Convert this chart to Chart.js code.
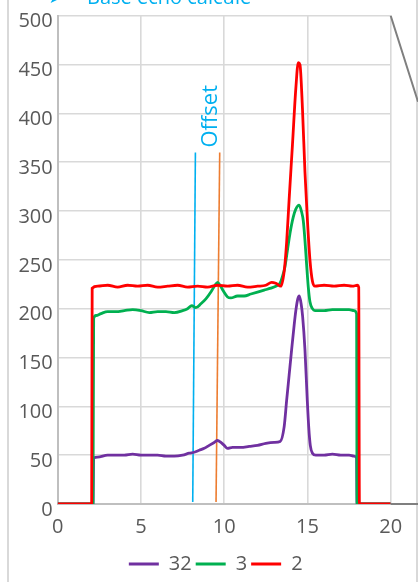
<!DOCTYPE html>
<html lang="fr">
<head>
<meta charset="UTF-8">
<title>Base écho calculé</title>
<script src="https://cdn.jsdelivr.net/npm/chart.js@4.4.0/dist/chart.umd.min.js"></script>
<style>
  html, body { margin: 0; padding: 0; background: #fff; }
  canvas { display: block; }
</style>
</head>
<body>
<canvas id="chart" width="418" height="582"></canvas>
<script>
// séries relevées (x en abscisse, valeur en ordonnée)
const names = ['32', '3', '2'];
const colors = ['#7030a0', '#00b050', '#ff0000'];

const xs32 = [0, 2.12, 2.16, 2.4, 3, 3.5, 4, 4.5, 5, 5.5, 6, 6.5, 7, 7.5, 7.9, 8.2, 8.5, 8.8, 9.1, 9.4, 9.6, 9.8, 10.0, 10.2, 10.5, 11, 11.5, 12, 12.5, 13, 13.36, 13.6, 13.75, 13.9, 14.05, 14.2, 14.31, 14.42, 14.51, 14.62, 14.71, 14.85, 14.99, 15.08, 15.17, 15.3, 15.5, 16, 16.5, 17, 17.5, 17.8, 17.95, 17.98, 20];
const ys32 = [0, 0, 47, 48, 50, 50, 50, 51, 50, 50, 50, 49, 49, 50, 52, 53, 55, 57, 60, 63, 65, 63, 60, 57, 58, 58, 59, 60, 62, 63, 64, 79, 106, 132, 158, 183, 199, 210, 213, 205, 192, 158, 106, 78, 60, 52, 50, 50, 51, 50, 50, 49, 47, 0, 0];

const xs3 = [0, 2.12, 2.16, 2.3, 2.6, 3, 3.5, 4, 4.5, 5, 5.5, 6, 6.5, 7, 7.5, 7.8, 8.05, 8.3, 8.6, 8.9, 9.2, 9.45, 9.6, 9.75, 9.95, 10.2, 10.4, 10.8, 11.2, 11.6, 12, 12.4, 12.8, 13.1, 13.35, 13.5, 13.65, 13.8, 13.95, 14.15, 14.3, 14.5, 14.65, 14.75, 14.85, 14.95, 15.05, 15.15, 15.3, 15.45, 16, 16.5, 17, 17.5, 17.8, 17.95, 17.98, 20];
const ys3 = [0, 0, 190, 193, 195, 197, 197, 198, 199, 198, 196, 197, 197, 196, 198, 200, 203, 201, 205, 210, 217, 224, 227, 224, 218, 212, 211, 213, 213, 215, 217, 219, 221, 223, 226, 233, 243, 260, 277, 294, 302, 306, 299, 290, 270, 245, 222, 207, 200, 198, 198, 199, 199, 199, 198, 195, 0, 0];

const xs2 = [0, 2.04, 2.07, 2.4, 3, 3.6, 4.2, 4.8, 5.4, 6, 6.6, 7.2, 7.8, 8.4, 9, 9.6, 10.2, 10.8, 11.4, 12, 12.5, 12.85, 13.1, 13.4, 13.6, 13.75, 13.9, 14.1, 14.3, 14.45, 14.55, 14.7, 14.85, 15.0, 15.15, 15.3, 15.45, 16, 16.6, 17.2, 17.7, 18.0, 18.08, 18.12, 20];
const ys2 = [0, 0, 221, 223, 224, 222, 224, 223, 224, 222, 223, 224, 222, 223, 222, 224, 223, 224, 222, 223, 224, 227, 226, 223, 238, 268, 312, 368, 425, 452, 450, 405, 340, 290, 250, 228, 223, 224, 223, 224, 223, 224, 222, 0, 0];

// repères verticaux
const xsBase = [8.27, 8.11];
const xsOffset = [9.73, 9.51];
const ysRepere = [360, 2];
const offsetLabel = { x: 9.56, y: 397, text: 'Offset' };
const titre = 'Base écho calculé';

const xTicks = [0, 5, 10, 15, 20];
const yMax = 500;

const pts = (xs, ys) => xs.map((x, i) => ({ x: x, y: ys[i] }));

const TXT = '#595959';
const FONT = "'Open Sans', 'DejaVu Sans', sans-serif";

const decor = {
  id: 'decor',
  beforeDraw(chart) {
    const ctx = chart.ctx;
    ctx.save();
    ctx.strokeStyle = '#d9d9d9';
    ctx.lineWidth = 2;
    ctx.beginPath();
    ctx.moveTo(8, 0); ctx.lineTo(8, chart.height);
    ctx.moveTo(chart.width - 1, 0); ctx.lineTo(chart.width - 1, chart.height);
    ctx.stroke();
    ctx.restore();
  },
  afterDraw(chart) {
    const ctx = chart.ctx;
    const a = chart.chartArea;
    const sx = chart.scales.x, sy = chart.scales.y;
    ctx.save();
    // traits du zoom vers la droite
    ctx.strokeStyle = '#7f7f7f';
    ctx.lineWidth = 2;
    ctx.beginPath();
    ctx.moveTo(a.right, a.top); ctx.lineTo(chart.width, a.top + 86);
    ctx.moveTo(a.right, a.bottom); ctx.lineTo(chart.width, a.bottom);
    ctx.stroke();

    // titre coupé en haut
    ctx.fillStyle = '#00b0f0';
    ctx.textBaseline = 'alphabetic';
    ctx.font = "14px 'DejaVu Sans'";
    ctx.fillText('\u27A4', 49, 3);
    ctx.font = '20px ' + FONT;
    ctx.fillText(titre, 87, 4);

    // étiquette Offset verticale
    ctx.font = '22px ' + FONT;
    ctx.translate(sx.getPixelForValue(offsetLabel.x), sy.getPixelForValue(offsetLabel.y));
    ctx.rotate(-Math.PI / 2);
    ctx.textAlign = 'center';
    ctx.fillText(offsetLabel.text, 0, 0);
    ctx.restore();
  }
};

const serie = (i, xs, ys, order) => ({
  label: names[i],
  data: pts(xs, ys),
  borderColor: colors[i],
  backgroundColor: colors[i],
  borderWidth: 2.8,
  pointRadius: 0,
  cubicInterpolationMode: 'monotone',
  fill: false,
  order: order
});

const repere = (xs, color) => ({
  label: '',
  data: pts(xs, ysRepere),
  borderColor: color,
  borderWidth: 1.6,
  pointRadius: 0,
  fill: false,
  order: 5
});

new Chart(document.getElementById('chart'), {
  type: 'line',
  data: {
    datasets: [
      serie(0, xs32, ys32, 2),
      serie(1, xs3, ys3, 1),
      serie(2, xs2, ys2, 0),
      repere(xsBase, '#00b0f0'),
      repere(xsOffset, '#ed7d31')
    ]
  },
  options: {
    responsive: false,
    animation: false,
    layout: { padding: { left: 13.4, right: 0, top: 15.7, bottom: -2 } },
    plugins: {
      tooltip: { enabled: false },
      legend: {
        position: 'bottom',
        labels: {
          // petits traits pleins, sans contour
          generateLabels: (chart) => Chart.defaults.plugins.legend.labels.generateLabels(chart)
            .map(l => Object.assign(l, { lineWidth: 0 })),
          filter: (item) => item.text !== '',
          sort: (a, b) => a.datasetIndex - b.datasetIndex,
          boxWidth: 30,
          boxHeight: 3,
          padding: 4,
          color: TXT,
          font: { family: FONT, size: 20 }
        }
      }
    },
    scales: {
      x: {
        type: 'linear',
        min: 0,
        max: 20,
        afterBuildTicks: (s) => { s.ticks = xTicks.map(v => ({ value: v })); },
        afterFit: (s) => { s.paddingLeft = 0; s.paddingRight = 27.3; },
        ticks: { color: TXT, font: { family: FONT, size: 20 }, padding: 11, maxRotation: 0 },
        grid: { color: '#d9d9d9', lineWidth: 1.6, drawTicks: false },
        border: { color: '#bfbfbf', width: 2 }
      },
      y: {
        min: 0,
        max: yMax,
        afterFit: (s) => { s.paddingTop = 0; s.paddingBottom = 0; },
        ticks: { stepSize: 50, color: TXT, font: { family: FONT, size: 20 }, padding: 5, labelOffset: 6 },
        grid: { color: '#d9d9d9', lineWidth: 1.6, drawTicks: false },
        border: { color: '#bfbfbf', width: 2 }
      }
    }
  },
  plugins: [decor]
});
</script>
</body>
</html>
